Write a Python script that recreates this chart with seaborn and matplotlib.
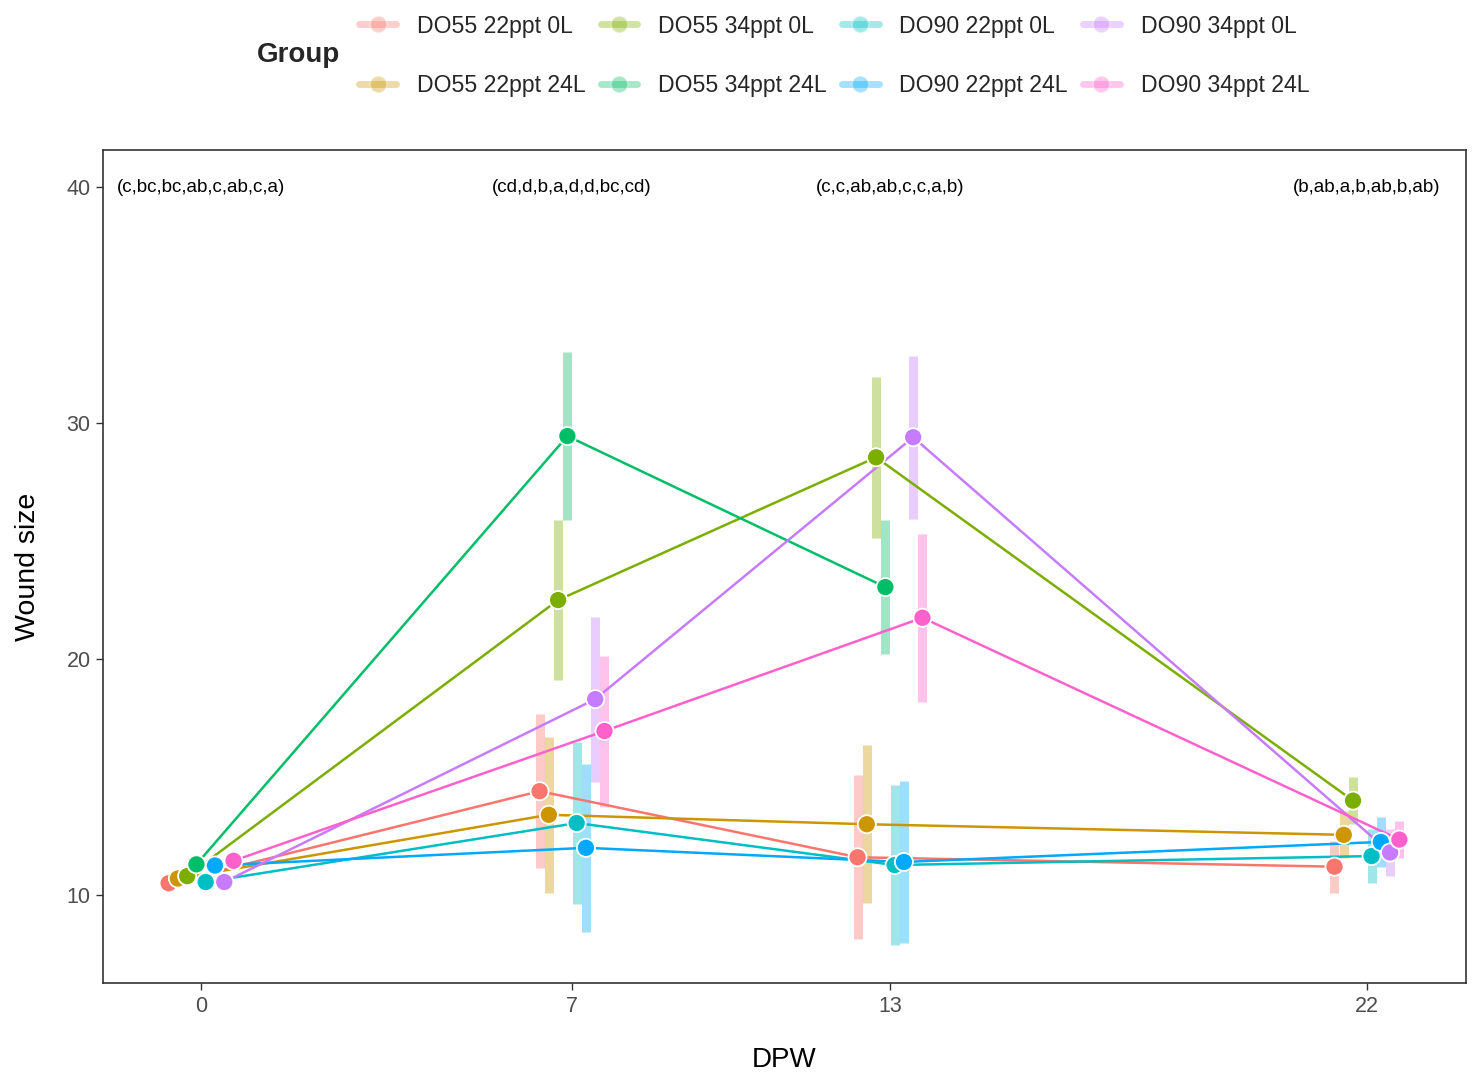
import numpy as np
import pandas as pd
import matplotlib
matplotlib.use("Agg")
import matplotlib.pyplot as plt
from matplotlib.lines import Line2D
import seaborn as sns

# ---- data ----
groups = ["DO55 22ppt 0L", "DO55 22ppt 24L", "DO55 34ppt 0L", "DO55 34ppt 24L",
          "DO90 22ppt 0L", "DO90 22ppt 24L", "DO90 34ppt 0L", "DO90 34ppt 24L"]
dpw = [0, 7, 13, 22]

mean_do55_22_0 = [10.5, 14.4, 11.6, 11.2]
mean_do55_22_24 = [10.7, 13.4, 13.0, 12.55]
mean_do55_34_0 = [10.8, 22.5, 28.55, 14.0]
mean_do55_34_24 = [11.3, 29.45, 23.05, np.nan]
mean_do90_22_0 = [10.55, 13.05, 11.27, 11.65]
mean_do90_22_24 = [11.25, 12.0, 11.4, 12.25]
mean_do90_34_0 = [10.55, 18.3, 29.4, 11.8]
mean_do90_34_24 = [11.45, 16.95, 21.75, 12.35]

err_do55_22_0 = [0.25, 3.25, 3.47, 1.1]
err_do55_22_24 = [0.25, 3.3, 3.35, 1.0]
err_do55_34_0 = [0.25, 3.4, 3.4, 1.0]
err_do55_34_24 = [0.25, 3.55, 2.85, np.nan]
err_do90_22_0 = [0.25, 3.45, 3.4, 1.15]
err_do90_22_24 = [0.25, 3.55, 3.43, 1.05]
err_do90_34_0 = [0.25, 3.5, 3.45, 1.0]
err_do90_34_24 = [0.25, 3.2, 3.55, 0.77]

letters = ["(c,bc,bc,ab,c,ab,c,a)", "(cd,d,b,a,d,d,bc,cd)",
           "(c,c,ab,ab,c,c,a,b)", "(b,ab,a,b,ab,b,ab)"]

means = [mean_do55_22_0, mean_do55_22_24, mean_do55_34_0, mean_do55_34_24,
         mean_do90_22_0, mean_do90_22_24, mean_do90_34_0, mean_do90_34_24]
errs = [err_do55_22_0, err_do55_22_24, err_do55_34_0, err_do55_34_24,
        err_do90_22_0, err_do90_22_24, err_do90_34_0, err_do90_34_24]

colors = ["#F8766D", "#CD9600", "#7CAE00", "#00BE67",
          "#00BFC4", "#00A9FF", "#C77CFF", "#FF61CC"]
palette = dict(zip(groups, colors))

# dodge groups side by side around each DPW value
dodge_width = 1.4
rows = []
for gi, g in enumerate(groups):
    off = (gi - (len(groups) - 1) / 2) * dodge_width / len(groups)
    for d, m, e in zip(dpw, means[gi], errs[gi]):
        if np.isnan(m):
            continue
        rows.append({"Group": g, "DPW": d, "x": d + off, "mean": m, "err": e})
df = pd.DataFrame(rows)

sns.set_theme(style="white")
plt.rcParams["font.family"] = ["Liberation Sans", "DejaVu Sans"]

fig = plt.figure(figsize=(14.74, 10.72), dpi=100)
ax = fig.add_axes([0.0699, 0.083, 0.9247, 0.777])

# error ranges
for g in groups:
    sub = df[df["Group"] == g]
    ax.vlines(sub["x"], sub["mean"] - sub["err"], sub["mean"] + sub["err"],
              colors=palette[g], alpha=0.38, linewidth=6.5, zorder=1)

# connecting lines
sns.lineplot(data=df, x="x", y="mean", hue="Group", hue_order=groups,
             palette=palette, estimator=None, sort=True, linewidth=1.8,
             legend=False, ax=ax, zorder=2)

# points
sns.scatterplot(data=df, x="x", y="mean", hue="Group", hue_order=groups,
                palette=palette, s=170, edgecolor="white", linewidth=1.3,
                legend=False, ax=ax, zorder=3)

# significance letters
for d, txt in zip(dpw, letters):
    ax.text(d, 40, txt, ha="center", va="center", fontsize=13.5, color="black")

ax.set_xlim(-1.85, 23.87)
ax.set_ylim(6.27, 41.57)
ax.set_xticks(dpw)
ax.set_xticklabels([str(d) for d in dpw])
ax.set_yticks([10, 20, 30, 40])
ax.tick_params(axis="both", which="both", direction="out", length=5, width=1,
               color="#333333", labelsize=15.5, labelcolor="#4D4D4D",
               bottom=True, left=True, pad=4)
for sp in ax.spines.values():
    sp.set_visible(True)
    sp.set_color("#333333")
    sp.set_linewidth(1.2)
ax.grid(False)
ax.set_xlabel("DPW", fontsize=20, labelpad=22, color="black")
ax.set_ylabel("Wound size", fontsize=20.5, labelpad=18, color="black")

# legend on top with title at the left
handles = [Line2D([0], [0], color=c, linewidth=5, alpha=0.35, marker="o",
                  markersize=12, markerfacecolor=c, markeredgecolor="white",
                  markeredgewidth=1.2) for c in colors]
fig.legend(handles, groups, loc="center left", bbox_to_anchor=(0.2375, 0.948),
           ncol=4, frameon=False, fontsize=16.6, handlelength=1.6,
           handletextpad=0.9, columnspacing=0.65, labelspacing=1.58,
           borderaxespad=0)
fig.text(0.174, 0.949, "Group", fontsize=20, fontweight="bold", va="center",
         ha="left")

fig.savefig("out.png", dpi=100)
